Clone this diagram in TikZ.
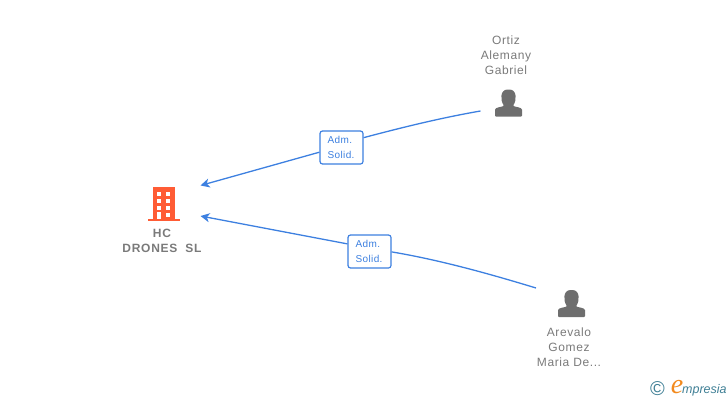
\documentclass[tikz,border=0pt]{standalone}
\usepackage{fontspec}
\setmainfont{Liberation Sans}
\newfontfamily\logofont{Liberation Serif}
\definecolor{linkblue}{HTML}{3D80E0}
\definecolor{txtgray}{HTML}{7A7A7A}
\definecolor{icongray}{HTML}{6E6E6E}
\definecolor{iconred}{HTML}{FF5C35}
\definecolor{logoteal}{HTML}{3F7F95}
\definecolor{logoorange}{HTML}{F28A1E}
\usetikzlibrary{arrows.meta}
\tikzset{
  person/.style={font=\fontsize{12}{15}\selectfont\addfontfeature{LetterSpace=5},text=txtgray,align=center,inner sep=0pt},
  company/.style={font=\bfseries\fontsize{12}{15}\selectfont\addfontfeature{LetterSpace=6},text=txtgray,align=center,inner sep=0pt},
  role/.style={draw=linkblue,line width=1.2pt,rounded corners=2.5pt,fill=white,text=linkblue,
    font=\fontsize{10}{15.5}\selectfont\addfontfeature{LetterSpace=4},align=left,minimum width=43pt,minimum height=33pt,
    text width=28pt,inner sep=0pt},
  link/.style={linkblue,line width=1.3pt},
  tip/.style={-{Stealth[length=9pt,width=9pt,inset=2.5pt]}}
}
\newcommand{\personicon}[2]{%
  \fill[icongray,shift={(#1,#2)},rounded corners=0.8pt] (-13.5,-13.5) -- (-13.5,-7.5)
    .. controls (-13.5,-4) and (-6,-4) .. (-4.5,-2.5)
    .. controls (-8,2) and (-9,13.5) .. (0,13.5) .. controls (9,13.5) and (8,2) .. (4.5,-2.5)
    .. controls (6,-4) and (13.5,-4) .. (13.5,-7.5) -- (13.5,-13.5) -- cycle;}
\newcommand{\rolelabel}{\raisebox{-1pt}{Adm.}\\\raisebox{-1pt}{Solid.}}
\begin{document}
\begin{tikzpicture}[x=1pt,y=1pt]
  \useasboundingbox (0,0) rectangle (728,400);
  % names
  \node[person] (ortiz) at (506,345) {Ortiz\\Alemany\\Gabriel};
  \node[person] (arevalo) at (569,53) {Arevalo\\Gomez\\Maria De...};
  \node[company] (hc) at (162,159.5) {HC\\DRONES\ \ SL};
  % icons
  \personicon{508.5}{297}
  \personicon{571.5}{96.5}
  \fill[iconred] (153,180) rectangle (175,213);
  \fill[iconred] (148,179) rectangle (180,181);
  \foreach \wy in {204,197,190} {
    \fill[white] (157,\wy) rectangle (161,\wy+4);
    \fill[white] (166,\wy) rectangle (170,\wy+4);
  }
  \fill[white] (157,181) rectangle (161,188);
  \fill[white] (166,183) rectangle (170,187);
  % connectors
  \coordinate (ortizend) at (480.5,289);
  \coordinate (arevaloend) at (536,112);
  \coordinate (hctop) at (200.5,214.5);
  \coordinate (hcbot) at (200.5,184);
  \node[role] (admone) at (341.5,252.5) {\rolelabel};
  \node[role] (admtwo) at (369.5,148.5) {\rolelabel};
  \draw[link] (ortizend) .. controls (440,282) and (400,272) .. (admone.24);
  \draw[link,tip] (admone.192) -- (hctop);
  \draw[link] (arevaloend) .. controls (490,126) and (440,140) .. (admtwo.-1);
  \draw[link,tip] (admtwo.161) -- (hcbot);
  % logo
  \node[inner sep=0pt,text=logoteal,font=\fontsize{20}{20}\selectfont] (copyr) at (657.5,11) {©};
  \node[inner sep=0pt,text=logoorange,font=\logofont\itshape\fontsize{28}{28}\selectfont] (logoe) at (677,13) {e};
  \node[inner sep=0pt,text=logoteal,font=\itshape\fontsize{12.5}{14}\selectfont,anchor=west] (logotxt) at (682,10) {mpresia};
\end{tikzpicture}
\end{document}
